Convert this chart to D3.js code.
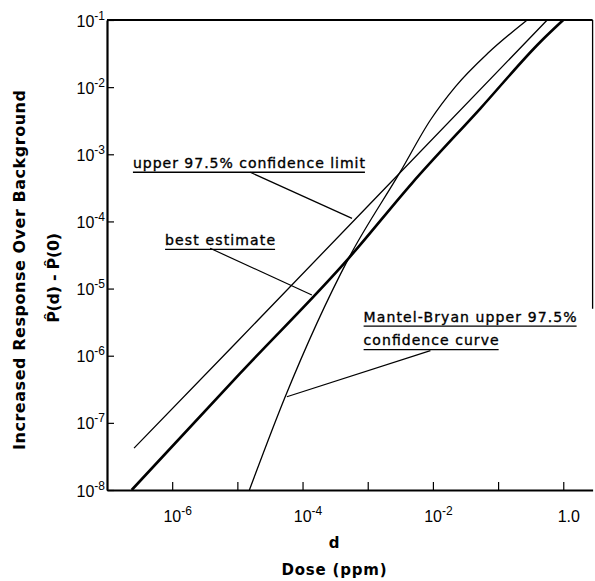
<!DOCTYPE html>
<html>
<head>
<meta charset="utf-8">
<script src="https://cdn.jsdelivr.net/npm/d3@7"></script>
<style>
  body { margin: 0; background: #fff; }
  svg { display: block; }
</style>
</head>
<body>
<div id="chart"></div>
<script>
// dose (ppm) / increased response
let upperDose = [2.6e-7, 1e-5, 1e-3, 0.567];
let upperResp = [4.2e-8, 1.63e-6, 1.68e-4, 0.1];

let bestDose = [2.39e-7, 1.1e-5, 5.09e-4, 4.8e-3, 5.37e-2, 0.448, 1.0];
let bestResp = [1e-8, 5.47e-7, 2.82e-5, 3.73e-4, 4.84e-3, 4.75e-2, 0.1];

let mbDose = [1.53e-5, 5.42e-5, 5.09e-4, 3.17e-3, 9.16e-3, 2.22e-2, 6.95e-2, 0.28];
let mbResp = [1e-8, 2.45e-7, 2.82e-5, 5.51e-4, 3.24e-3, 1.02e-2, 3.19e-2, 0.1];

let xTicks = [1e-6, 1e-5, 1e-4, 1e-3, 1e-2, 1e-1, 1];
let xTickBase = ["10", "", "10", "", "10", "", "1.0"];
let xTickSup = ["-6", "", "-4", "", "-2", "", ""];

let yTicks = [1e-8, 1e-7, 1e-6, 1e-5, 1e-4, 1e-3, 1e-2, 1e-1];
let yTickSup = ["-8", "-7", "-6", "-5", "-4", "-3", "-2", "-1"];

// annotations: text, where the text starts (dose, response) and leader line ends
let noteText = ["upper 97.5% confidence limit", "best estimate", "Mantel-Bryan upper 97.5%", "confidence curve"];
let noteDose = [2.5e-7, 7.78e-7, 8.65e-4, 8.65e-4];
let noteResp = [6.3e-4, 4.46e-5, 3.21e-6, 1.44e-6];
let leaderFrom = [[1.57e-5, 5.4e-4], [3.82e-6, 3.98e-5], [9.16e-3, 1.19e-6]];
let leaderTo = [[5.74e-4, 1.11e-4], [1.39e-4, 8.02e-6], [5.75e-5, 2.45e-7]];

let w = 595;
let h = 581;
let noteWidth = [232, 110, 213, 135];

let x = d3.scaleLog().domain([1e-7, Math.pow(10, 0.45)]).range([107, 592.6]);
let y = d3.scaleLog().domain([1e-8, 1e-1]).range([490, 20]);

let svg = d3.select("#chart")
    .append("svg")
    .attr("width", w)
    .attr("height", h)
    .attr("font-family", "'Liberation Sans', sans-serif");

// frame
svg.append("line")
    .attr("x1", x.range()[0]).attr("x2", x.range()[1])
    .attr("y1", y(1e-1)).attr("y2", y(1e-1))
    .attr("stroke", "#000").attr("stroke-width", 2);
svg.append("line")
    .attr("x1", x.range()[1]).attr("x2", x.range()[1])
    .attr("y1", y(1e-1)).attr("y2", y(Math.pow(10, -5.3)))
    .attr("stroke", "#000").attr("stroke-width", 1.3);

// x axis
let xAxis = svg.append("g")
    .attr("transform", "translate(0," + y.range()[0] + ")")
    .call(d3.axisBottom(x).tickValues(xTicks).tickSizeInner(-8).tickSizeOuter(0).tickFormat(""));

xAxis.selectAll(".tick text").each(function(d, i) {
    let t = d3.select(this)
        .attr("dy", null)
        .attr("y", 32)
        .attr("dx", 5)
        .attr("font-size", 16)
        .attr("font-family", "'Liberation Sans', sans-serif");
    t.append("tspan").text(xTickBase[i]);
    if (xTickSup[i]) {
        t.append("tspan").attr("dy", -7).attr("font-size", 12).text(xTickSup[i]);
    }
});

// y axis
let yAxis = svg.append("g")
    .attr("transform", "translate(" + x.range()[0] + ",0)")
    .call(d3.axisLeft(y).tickValues(yTicks).tickSizeInner(-7).tickSizeOuter(0).tickPadding(2).tickFormat(""));

yAxis.selectAll(".tick text").each(function(d, i) {
    let t = d3.select(this)
        .attr("dy", "0.38em")
        .attr("font-size", 16)
        .attr("font-family", "'Liberation Sans', sans-serif");
    t.append("tspan").text("10");
    t.append("tspan").attr("dy", -7).attr("font-size", 12).text(yTickSup[i]);
});

svg.selectAll(".domain").attr("stroke-width", 2.2);
svg.selectAll(".tick line").attr("stroke-width", 1.2);

// curves
let line = d3.line()
    .x(function(d) { return x(d[0]); })
    .y(function(d) { return y(d[1]); });

svg.append("path")
    .datum(d3.zip(upperDose, upperResp))
    .attr("d", line.curve(d3.curveLinear))
    .attr("fill", "none")
    .attr("stroke", "#000")
    .attr("stroke-width", 1.3);

svg.append("path")
    .datum(d3.zip(bestDose, bestResp))
    .attr("d", line.curve(d3.curveMonotoneX))
    .attr("fill", "none")
    .attr("stroke", "#000")
    .attr("stroke-width", 2.6);

svg.append("path")
    .datum(d3.zip(mbDose, mbResp))
    .attr("d", line.curve(d3.curveMonotoneX))
    .attr("fill", "none")
    .attr("stroke", "#000")
    .attr("stroke-width", 1.3);

// annotations
noteText.forEach(function(s, i) {
    let tx = x(noteDose[i]);
    let ty = y(noteResp[i]);
    svg.append("text")
        .attr("x", tx)
        .attr("y", ty)
        .attr("font-family", "'DejaVu Sans', sans-serif")
        .attr("font-size", 14)
        .attr("stroke", "#000")
        .attr("stroke-width", 0.35)
        .attr("textLength", noteWidth[i])
        .attr("lengthAdjust", "spacing")
        .text(s);
    svg.append("line")
        .attr("x1", tx).attr("x2", tx + noteWidth[i])
        .attr("y1", ty + 4.5).attr("y2", ty + 4.5)
        .attr("stroke", "#000")
        .attr("stroke-width", 1.3);
});

leaderFrom.forEach(function(p, i) {
    svg.append("line")
        .attr("x1", x(p[0])).attr("y1", y(p[1]))
        .attr("x2", x(leaderTo[i][0])).attr("y2", y(leaderTo[i][1]))
        .attr("stroke", "#000")
        .attr("stroke-width", 1.2);
});

// axis titles
svg.append("text")
    .attr("x", 334).attr("y", 548)
    .attr("text-anchor", "middle")
    .attr("font-family", "'DejaVu Sans', sans-serif")
    .attr("font-weight", "bold")
    .attr("font-size", 15)
    .text("d");

svg.append("text")
    .attr("x", 334).attr("y", 575)
    .attr("text-anchor", "middle")
    .attr("font-family", "'DejaVu Sans', sans-serif")
    .attr("font-weight", "bold")
    .attr("font-size", 15)
    .attr("textLength", 105)
    .attr("lengthAdjust", "spacing")
    .text("Dose (ppm)");

svg.append("text")
    .attr("transform", "translate(25,270) rotate(-90)")
    .attr("text-anchor", "middle")
    .attr("font-family", "'DejaVu Sans', sans-serif")
    .attr("font-weight", "bold")
    .attr("font-size", 16)
    .attr("textLength", 360)
    .attr("lengthAdjust", "spacing")
    .text("Increased Response Over Background");

svg.append("text")
    .attr("transform", "translate(59,278) rotate(-90)")
    .attr("text-anchor", "middle")
    .attr("font-family", "'DejaVu Sans', sans-serif")
    .attr("font-weight", "bold")
    .attr("font-size", 16)
    .attr("textLength", 90)
    .attr("lengthAdjust", "spacing")
    .text("P\u0302(d) - P\u0302(0)");
</script>
</body>
</html>
